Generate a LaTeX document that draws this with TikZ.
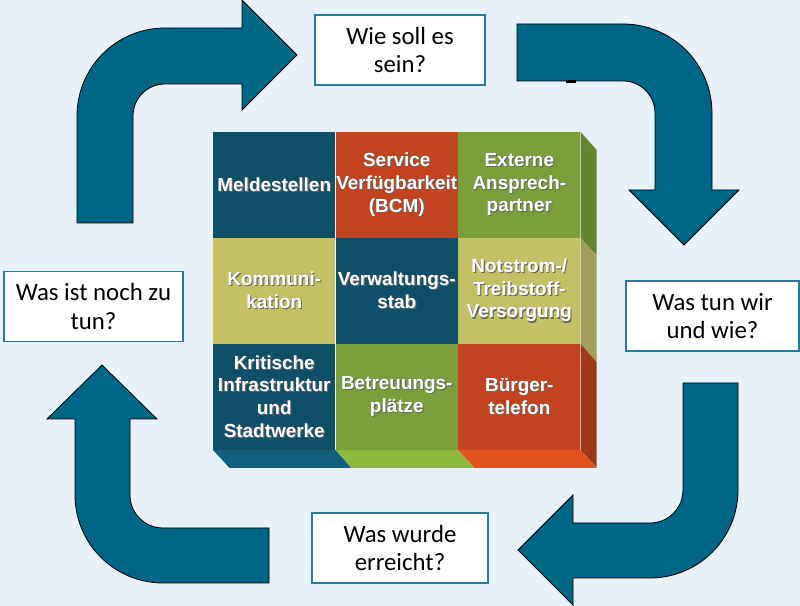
\documentclass[tikz,border=0pt]{standalone}
\usepackage{fontspec}
\setmainfont{Carlito}
\newfontfamily\arialfont{Liberation Sans}
\usetikzlibrary{positioning}

\definecolor{bgblue}{RGB}{232,241,247}
\definecolor{arrowblue}{RGB}{0,102,136}
\definecolor{frameblue}{RGB}{40,122,150}
\definecolor{celldark}{RGB}{14,80,104}
\definecolor{cellred}{RGB}{194,68,30}
\definecolor{cellgreen}{RGB}{122,158,58}
\definecolor{cellkhaki}{RGB}{196,192,100}
\definecolor{sidegreen}{RGB}{100,134,46}
\definecolor{sidekhaki}{RGB}{160,158,84}
\definecolor{sidered}{RGB}{160,56,26}
\definecolor{botdark}{RGB}{16,96,126}
\definecolor{botgreen}{RGB}{142,186,62}
\definecolor{botred}{RGB}{226,82,32}

\newcommand\shd[1]{\leavevmode\rlap{\kern0.8pt\raisebox{-0.8pt}{\textcolor{black!60}{#1}}}#1}

\begin{document}
\begin{tikzpicture}[
x = 0.75pt, y = 0.75pt,
node distance = 0pt,
cell/.style = {
	minimum width = 91.5pt,
	minimum height = 79.1pt,
	text width = 91pt,
	inner sep = 0pt,
	align = center,
	text = white,
	font = \arialfont\bfseries\fontsize{14.2}{17}\selectfont
},
frage/.style = {
	draw = frameblue,
	line width = 1.1pt,
	fill = white,
	minimum width = 130pt,
	minimum height = 52.5pt,
	align = center,
	font = \fontsize{18.6}{21.5}\selectfont
},
bigarrow/.style = {
	fill = arrowblue,
	draw = black,
	line width = 0.6pt
}
]

\fill[bgblue] (0,0) rectangle (800,606);
\useasboundingbox (0,0) rectangle (800,606);

% the four curved arrows
\draw[bigarrow] (77,383) -- (77,490) arc[start angle=180, end angle=90, radius=88] -- (242,578) -- (242,606) -- (297,551) -- (242,496) -- (242,522) -- (165,522) arc[start angle=90, end angle=180, radius=32] -- (133,383) -- cycle;
\draw[bigarrow] (517,582) -- (623,582) arc[start angle=90, end angle=0, radius=89] -- (712,416) -- (739,416) -- (684,361) -- (629,416) -- (655,416) -- (655,493) arc[start angle=0, end angle=90, radius=32] -- (517,525) -- cycle;
\draw[bigarrow] (683,223) -- (738,223) -- (738,116) arc[start angle=0, end angle=-90, radius=88] -- (573,28) -- (573,1) -- (518,56) -- (573,111) -- (573,83) -- (650,83) arc[start angle=-90, end angle=0, radius=33] -- cycle;
\draw[bigarrow] (269,78) -- (163,78) arc[start angle=-90, end angle=-180, radius=33] -- (130,187) -- (157,187) -- (102,241) -- (47,187) -- (75,187) -- (75,111) arc[start angle=180, end angle=270, radius=88] -- (269,23) -- cycle;
\fill[black] (566,523) rectangle (576,526);

\node[cell, fill=celldark, anchor=north west] at (213,474) (melde) {\shd{Meldestellen}};
\node[cell, fill=cellred, right=of melde]		(service)	{\shd{Service}\\\shd{Verfügbarkeit}\\\shd{(BCM)}};
\node[cell, fill=cellgreen, right=of service]	(extern)	{\shd{Externe}\\\shd{Ansprech-}\\\shd{partner}};
\node[cell, fill=cellkhaki, below=of melde]		(kommu)		{\shd{Kommuni-}\\\shd{kation}};
\node[cell, fill=celldark, right=of kommu]		(verwalt)	{\shd{Verwaltungs-}\\\shd{stab}};
\node[cell, fill=cellkhaki, right=of verwalt]	(notstrom)	{\shd{Notstrom-/}\\\shd{Treibstoff-}\\\shd{Versorgung}};
\node[cell, fill=celldark, below=of kommu]		(kritis)	{\shd{Kritische}\\\shd{Infrastruktur}\\\shd{und}\\\shd{Stadtwerke}};
\node[cell, fill=cellgreen, right=of kritis]	(betreu)	{\shd{Betreuungs-}\\\shd{plätze}};
\node[cell, fill=cellred, right=of betreu]		(buerger)	{\shd{Bürger-}\\\shd{telefon}};

% side and bottom faces of the block
\fill[sidegreen] (extern.north east) -- ++(16,-18) -- ++(0,-105.5) -- (extern.south east) -- cycle;
\fill[sidekhaki] (notstrom.north east) -- ++(16,-18) -- ++(0,-105.5) -- (notstrom.south east) -- cycle;
\fill[sidered] (buerger.north east) -- ++(16,-18) -- ++(0,-105.5) -- (buerger.south east) -- cycle;
\fill[botdark] (kritis.south west) -- (kritis.south east) -- ++(16,-18) -- ++(-122,0) -- cycle;
\fill[botgreen] (betreu.south west) -- (betreu.south east) -- ++(16,-18) -- ++(-122,0) -- cycle;
\fill[botred] (buerger.south west) -- (buerger.south east) -- ++(16,-18) -- ++(-122,0) -- cycle;

\node[frage, minimum width=127.5pt] (wie) at (400,556) {Wie soll es\\sein?};
\node[frage] (tunwir) at (712.5,290) {Was tun wir\\und wie?};
\node[frage, minimum width=132pt] (erreicht) at (400,58) {Was wurde\\erreicht?};
\node[frage, minimum width=134pt] (noch) at (93.5,299.5) {Was ist noch zu\\tun?};
\end{tikzpicture}
\end{document}
